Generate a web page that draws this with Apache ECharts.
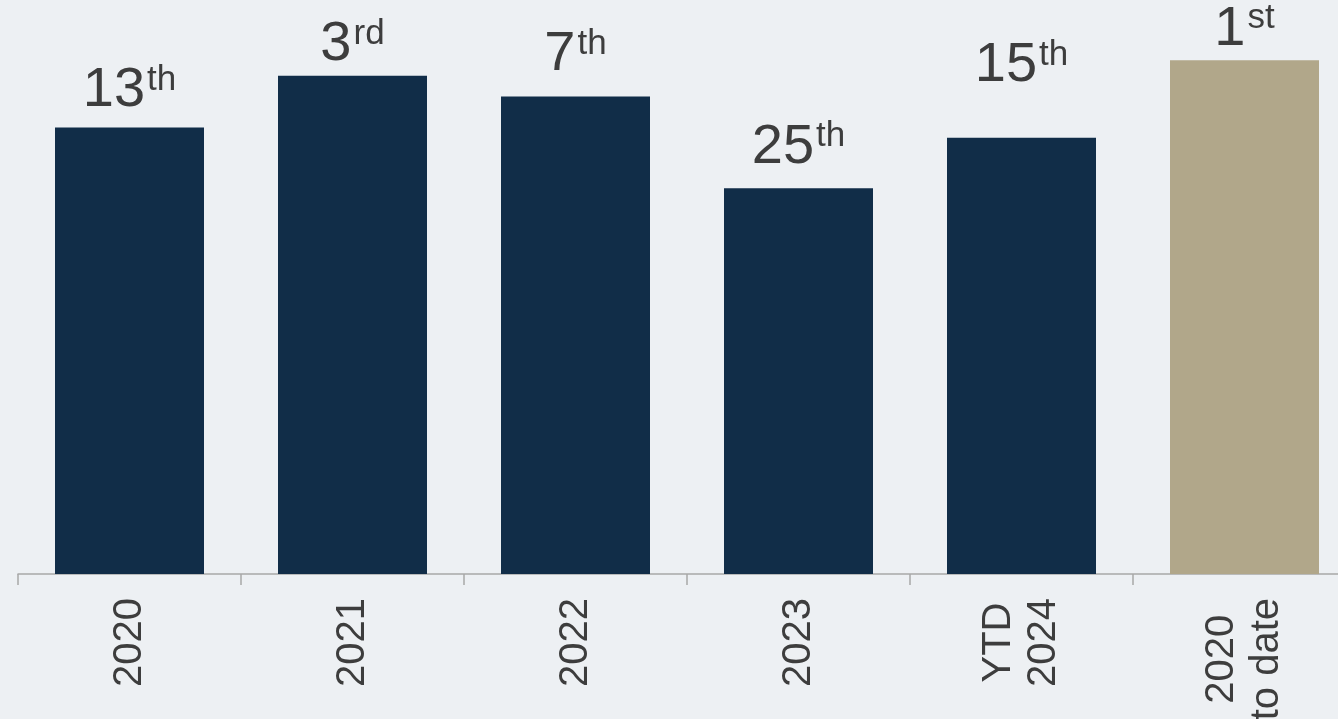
<!DOCTYPE html>
<html>
<head>
<meta charset="utf-8">
<script src="https://cdn.jsdelivr.net/npm/echarts@6/dist/echarts.min.js"></script>
<style>
html,body{margin:0;padding:0;background:#edf0f3;}
#chart{width:1338px;height:719px;}
</style>
</head>
<body>
<div id="chart"></div>
<script>
const categories = ['2020', '2021', '2022', '2023', 'YTD\n2024', '2020\nto date'];
const values = [77.8, 86.8, 83.2, 67.2, 76.0, 89.5];
const ranks = ['13th', '3rd', '7th', '25th', '15th', '1st'];
const barColors = ['#112d48', '#112d48', '#112d48', '#112d48', '#112d48', '#b1a78a'];
const labelDistance = [9, 3, 14, 13, 44, 3];

const chart = echarts.init(document.getElementById('chart'));
const data = values.map((v, i) => ({
  value: v,
  itemStyle: { color: barColors[i] },
  label: { distance: labelDistance[i] }
}));

chart.setOption({
  backgroundColor: '#edf0f3',
  animation: false,
  grid: { left: 18, right: -18, top: 0, bottom: 145, containLabel: false, outerBoundsMode: 'none' },
  xAxis: {
    type: 'category',
    data: categories,
    axisLine: { show: true, lineStyle: { color: '#a8a8a8', width: 1.5 } },
    axisTick: { show: true, length: 11, lineStyle: { color: '#a8a8a8', width: 1.5 } },
    axisLabel: {
      rotate: 90,
      margin: 24,
      interval: 0,
      hideOverlap: false,
      formatter: function (v) {
        return v.split('\n').map(s => '{a|' + s + '}').join('\n');
      },
      rich: {
        a: { fontFamily: 'Liberation Sans', fontSize: 40, color: '#3d3d3d', align: 'center', lineHeight: 45 }
      }
    }
  },
  yAxis: { type: 'value', min: 0, max: 100, show: false, splitLine: { show: false } },
  series: [{
    type: 'bar',
    data: data,
    barWidth: 149,
    label: {
      show: true,
      position: 'top',
      formatter: function (p) {
        const m = ranks[p.dataIndex].match(/^(\d+)(\D+)$/);
        return '{n|' + m[1] + '}{s|' + m[2] + '}';
      },
      rich: {
        n: { fontFamily: 'Liberation Sans', fontSize: 56, lineHeight: 56, color: '#3d3d3d' },
        s: { fontFamily: 'Liberation Sans', fontSize: 35, lineHeight: 52, color: '#3d3d3d', verticalAlign: 'top', padding: [0, 0, 0, 2] }
      }
    }
  }]
});
</script>
</body>
</html>
